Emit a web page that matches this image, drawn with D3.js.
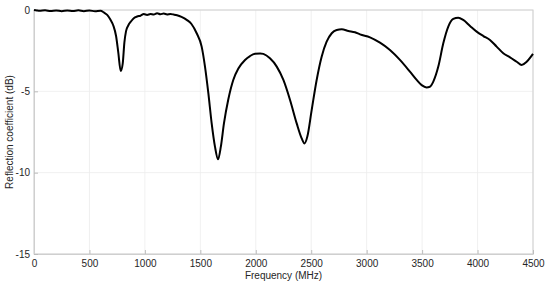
<!DOCTYPE html>
<html>
<head>
<meta charset="utf-8">
<script src="https://cdn.jsdelivr.net/npm/d3@7"></script>
<style>
  body { margin: 0; background: #fff; }
  svg { display: block; font-family: "Liberation Sans", Arial, sans-serif; }
</style>
</head>
<body>
<svg></svg>
<script>
const freq = [0, 25, 50, 100, 150, 200, 250, 300, 350, 400, 450, 500, 550, 600, 630, 660, 690, 715, 740, 760, 782, 800, 815, 830, 850, 875, 900, 930, 960, 990, 1020, 1050, 1080, 1110, 1140, 1170, 1200, 1230, 1260, 1290, 1330, 1380, 1420, 1467, 1512, 1542, 1572, 1602, 1632, 1660, 1685, 1713, 1752, 1797, 1843, 1903, 1948, 1993, 2040, 2068, 2128, 2189, 2249, 2309, 2369, 2414, 2440, 2465, 2504, 2549, 2594, 2639, 2685, 2730, 2775, 2835, 2895, 2940, 3030, 3120, 3210, 3300, 3390, 3451, 3496, 3540, 3570, 3601, 3646, 3691, 3736, 3781, 3826, 3871, 3932, 3992, 4052, 4112, 4172, 4232, 4293, 4353, 4398, 4443, 4500];
const s11 = [0, -0.03, -0.05, -0.02, -0.06, -0.03, -0.07, -0.03, -0.06, -0.02, -0.07, -0.03, -0.08, -0.05, -0.15, -0.3, -0.6, -0.95, -1.6, -2.6, -3.75, -3.3, -2.0, -1.3, -0.95, -0.7, -0.5, -0.4, -0.35, -0.25, -0.3, -0.25, -0.28, -0.2, -0.26, -0.22, -0.27, -0.25, -0.28, -0.32, -0.42, -0.62, -0.86, -1.43, -2.25, -3.48, -5.1, -6.95, -8.4, -9.18, -8.4, -6.97, -5.5, -4.3, -3.6, -3.07, -2.83, -2.69, -2.67, -2.7, -2.97, -3.48, -4.3, -5.53, -6.97, -7.89, -8.2, -7.78, -6.15, -4.3, -2.87, -1.95, -1.43, -1.23, -1.19, -1.29, -1.37, -1.5, -1.68, -2.01, -2.46, -3.07, -3.79, -4.3, -4.62, -4.76, -4.72, -4.4, -3.48, -2.05, -1.02, -0.55, -0.47, -0.61, -0.98, -1.33, -1.6, -1.84, -2.25, -2.66, -2.91, -3.18, -3.38, -3.18, -2.7];
const xTicks = [0, 500, 1000, 1500, 2000, 2500, 3000, 3500, 4000, 4500];
const yTicks = [0, -5, -10, -15];

const width = 550;
const height = 286;
const margin = { top: 10, right: 17, bottom: 32, left: 34 };
const svg = d3.select('svg')
  .attr('width', width)
  .attr('height', height);

const x = d3.scaleLinear().domain([0, 4500]).range([margin.left, width - margin.right]);
const y = d3.scaleLinear().domain([-15, 0]).range([height - margin.bottom, margin.top]);

// grid
svg.append('g')
  .selectAll('line')
  .data(xTicks)
  .enter()
  .append('line')
  .attr('x1', d => x(d)).attr('x2', d => x(d))
  .attr('y1', y(0)).attr('y2', y(-15))
  .attr('stroke', '#ececec')
  .attr('stroke-width', 0.8);
svg.append('g')
  .selectAll('line')
  .data(yTicks)
  .enter()
  .append('line')
  .attr('x1', x(0)).attr('x2', x(4500))
  .attr('y1', d => y(d)).attr('y2', d => y(d))
  .attr('stroke', '#ececec')
  .attr('stroke-width', 0.8);

// box
svg.append('rect')
  .attr('x', x(0)).attr('y', y(0))
  .attr('width', x(4500) - x(0))
  .attr('height', y(-15) - y(0))
  .attr('fill', 'none')
  .attr('stroke', '#cfcfcf')
  .attr('stroke-width', 1);

const xAxis = svg.append('g')
  .attr('transform', `translate(0,${y(-15)})`)
  .call(d3.axisBottom(x).tickValues(xTicks).tickFormat(d3.format('d')).tickSizeInner(-4).tickSizeOuter(0).tickPadding(6));
const yAxis = svg.append('g')
  .attr('transform', `translate(${x(0)},0)`)
  .call(d3.axisLeft(y).tickValues(yTicks).tickFormat(d3.format('d')).tickSizeInner(-4).tickSizeOuter(0).tickPadding(4));
[xAxis, yAxis].forEach(g => {
  g.select('.domain').attr('stroke', '#cfcfcf');
  g.selectAll('.tick line').attr('stroke', '#bdbdbd');
  g.selectAll('.tick text')
    .attr('fill', '#262626')
    .style('font-size', '10px')
    .style('font-family', '"Liberation Sans", Arial, sans-serif');
});
yAxis.selectAll('.tick text').text(d => d === 0 ? '0' : '-' + Math.abs(d));

svg.append('text')
  .attr('x', (x(0) + x(4500)) / 2)
  .attr('y', 279)
  .attr('text-anchor', 'middle')
  .attr('fill', '#262626')
  .style('font-size', '10px')
  .text('Frequency (MHz)');
svg.append('text')
  .attr('transform', `translate(13,${(y(0) + y(-15)) / 2}) rotate(-90)`)
  .attr('text-anchor', 'middle')
  .attr('fill', '#262626')
  .style('font-size', '10px')
  .text('Reflection coefficient (dB)');

const line = d3.line()
  .x((d, i) => x(freq[i]))
  .y(d => y(d))
  .curve(d3.curveMonotoneX);
svg.append('path')
  .datum(s11)
  .attr('fill', 'none')
  .attr('stroke', '#000')
  .attr('stroke-width', 2)
  .attr('stroke-linejoin', 'round')
  .attr('d', line);
</script>
</body>
</html>
